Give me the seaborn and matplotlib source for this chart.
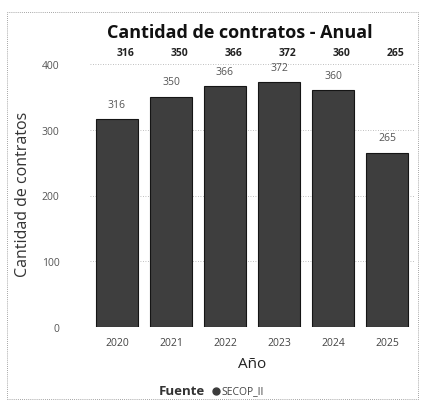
import matplotlib
matplotlib.use("Agg")
import matplotlib.pyplot as plt
import seaborn as sns
import pandas as pd
from matplotlib.patches import Rectangle
from matplotlib.lines import Line2D

years = ["2020", "2021", "2022", "2023", "2024", "2025"]
counts = [316, 350, 366, 372, 360, 265]
yticks = [0, 100, 200, 300, 400]

df = pd.DataFrame({"Año": years, "Cantidad": counts})

sns.set_theme(style="white")
plt.rcParams['font.family'] = ['Open Sans', 'DejaVu Sans']

fig = plt.figure(figsize=(4.25, 4.10), dpi=100)
ax = fig.add_axes([90/425, 1-328/410, 324/425, (328-60)/410])

sns.barplot(data=df, x="Año", y="Cantidad", color="#3e3e3e", width=0.78,
            edgecolor="#151515", linewidth=0.8, saturation=1, ax=ax)

ax.set_ylim(0, 400 * (328-60) / (328-65))
ax.set_xlim(-0.5, 5.5)
ax.set_yticks(yticks)
ax.set_yticklabels([str(t) for t in yticks], fontsize=7.5, color="#555555")
ax.tick_params(axis="x", labelsize=7.5, labelcolor="#444444", length=0, pad=7)
ax.tick_params(axis="y", length=0, pad=22)
for t in yticks[1:]:
    ax.axhline(t, color="#aaaaaa", lw=0.6, ls=(0, (1, 2)), zorder=0)
for s in ax.spines.values():
    s.set_visible(False)

ax.set_xlabel("Año", fontsize=11, color="#222222", labelpad=6)
ax.set_ylabel("Cantidad de contratos", fontsize=11.5, color="#333333", labelpad=8)

for i, v in enumerate(counts):
    ax.annotate(str(v), (i, v), xytext=(0, 7), textcoords="offset points",
                ha="center", va="bottom", fontsize=7.5, color="#555555")
    ax.annotate(str(v), (i, 0), xycoords=("data", "figure fraction"),
                xytext=(6, 0), textcoords="offset points",
                ha="center", va="center", fontsize=7.5, fontweight="bold",
                color="#222222").xy = (i, 1-53/410)

fig.text(240/425, 1-33/410, "Cantidad de contratos - Anual", ha="center", va="center",
         fontsize=13, fontweight="bold", color="#111111")

fig.text(159/425, 1-392/410, "Fuente", ha="left", va="center", fontsize=9.5,
         fontweight="bold", color="#333333")
fig.add_artist(Line2D([216/425], [1-392/410], marker="o", markersize=5,
                      color="#3b3b3b", transform=fig.transFigure))
fig.text(221/425, 1-392/410, "SECOP_II", ha="left", va="center", fontsize=7.5,
         color="#444444")

fig.add_artist(Rectangle((7/425, 1-400/410), 411/425, 387/410, transform=fig.transFigure,
                         fill=False, edgecolor="#888888", lw=0.6, ls=(0, (1, 1.5))))

fig.savefig("out.png", dpi=100)
